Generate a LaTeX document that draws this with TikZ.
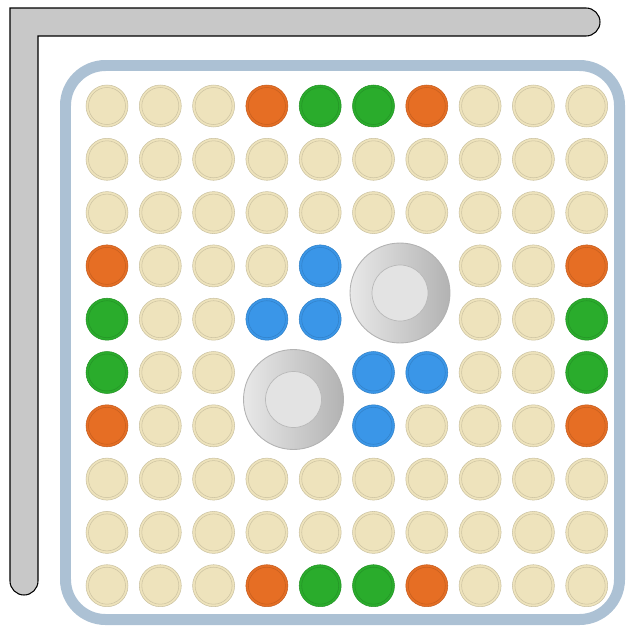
\documentclass[tikz,border=0pt]{standalone}
\usepackage{tikz}

\begin{document}
\begin{tikzpicture}[x=0.02cm, y=0.02cm,
			well/.style={circle, inner sep=0pt, minimum size=0.84cm, fill=#1, draw=#1!85!black, line width=0.3pt,
				path picture={\draw[#1!65!black, line width=0.3pt, opacity=0.4] (path picture bounding box.center) circle (0.37cm);}},
			ring/.style={circle, inner sep=0pt, minimum size=2cm, left color=gray!18, right color=gray!60, draw=gray!60, line width=0.5pt,
				path picture={\fill[gray!22] (path picture bounding box.center) circle (0.56cm);
					\draw[gray!55, line width=0.4pt] (path picture bounding box.center) circle (0.56cm);}},
			frame/.style={draw=framegrey, line width=0.22cm, rounded corners=0.8cm},
			bar/.style={fill=bargrey, draw=black, line width=0.6pt}
			]
			
			% Define colors
			\definecolor{sd}{RGB}{238,227,188}
			\definecolor{or}{RGB}{230,110,36}
			\definecolor{gr}{RGB}{42,172,44}
			\definecolor{bl}{RGB}{58,150,232}
			\definecolor{framegrey}{RGB}{172,193,212}
			\definecolor{bargrey}{RGB}{200,200,200}
			
			\useasboundingbox (0,0) rectangle (628,-632);
			
			% 1. L-shaped bar
			\draw[bar] (10,-8) -- (586,-8) arc (90:-90:14) -- (38,-36) -- (38,-581)
				arc (0:-180:14) -- cycle;
			
			% 2. Tray frame
			\draw[frame] (65.5,-65.5) rectangle (619.5,-619.5);
			
			% 3. Grid of wells (xx = covered by a ring)
			\foreach \row [count=\r from 0] in {
				{sd,sd,sd,or,gr,gr,or,sd,sd,sd},
				{sd,sd,sd,sd,sd,sd,sd,sd,sd,sd},
				{sd,sd,sd,sd,sd,sd,sd,sd,sd,sd},
				{or,sd,sd,sd,bl,xx,xx,sd,sd,or},
				{gr,sd,sd,bl,bl,xx,xx,sd,sd,gr},
				{gr,sd,sd,xx,xx,bl,bl,sd,sd,gr},
				{or,sd,sd,xx,xx,bl,sd,sd,sd,or},
				{sd,sd,sd,sd,sd,sd,sd,sd,sd,sd},
				{sd,sd,sd,sd,sd,sd,sd,sd,sd,sd},
				{sd,sd,sd,or,gr,gr,or,sd,sd,sd}} {
				\foreach \k [count=\c from 0] in \row {
					\def\skipmark{xx}\edef\cur{\k}
					\ifx\cur\skipmark\else
						\node[well=\k] (w-\r-\c) at ({107+53.3*\c},{-106-53.3*\r}) {};
					\fi
				}
			}
			
			% 4. Grey rings
			\node[ring] (ringA) at (400,-293) {};
			\node[ring] (ringB) at (293.5,-399.5) {};
			
		\end{tikzpicture}
\end{document}
